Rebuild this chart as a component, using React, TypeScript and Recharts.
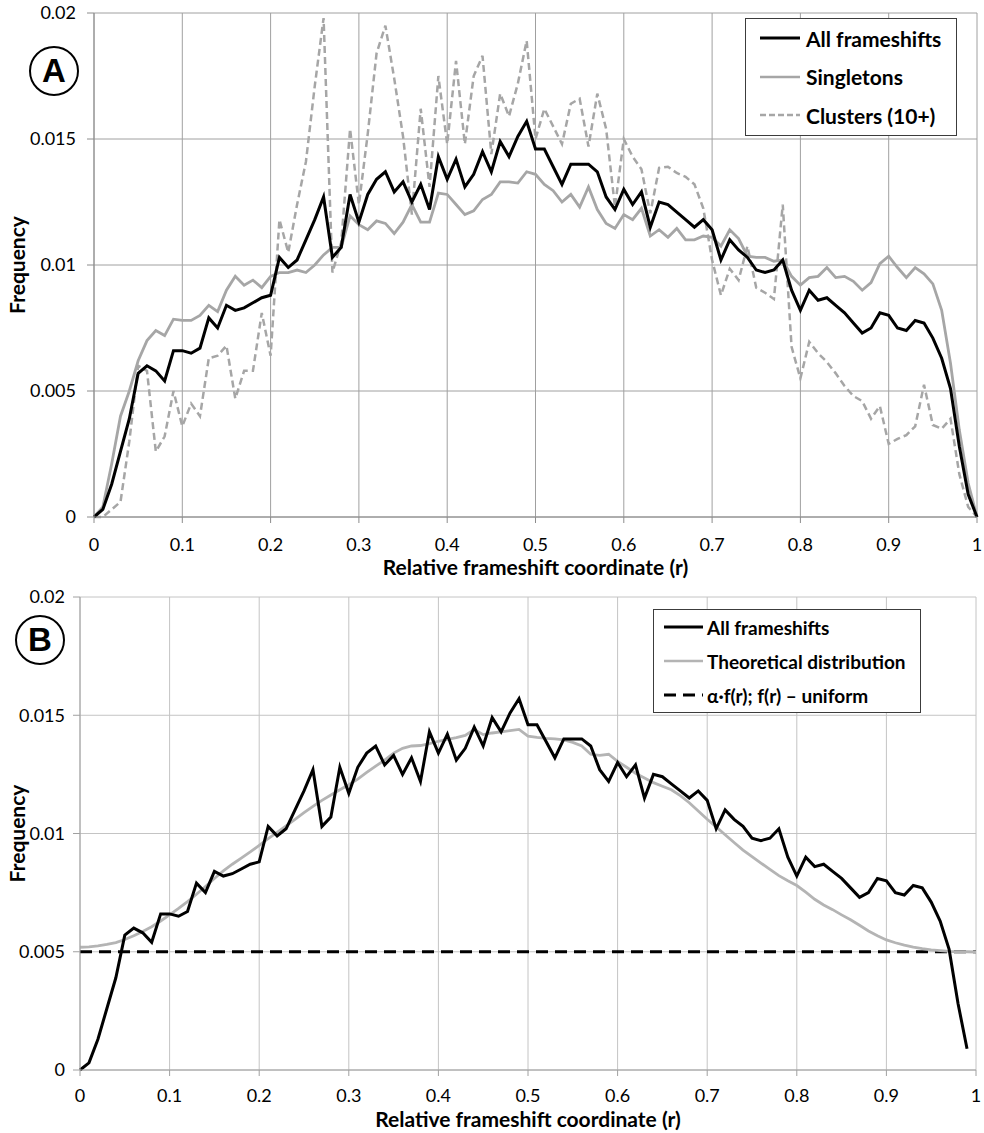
import React from 'react';
import { LineChart, Line, XAxis, YAxis, CartesianGrid, Legend, Label } from 'recharts';

// Relative frameshift coordinate r, in 0.01 bins
const R = Array.from({ length: 101 }, (_, i) => i / 100);

const X_TICKS = [0, 0.1, 0.2, 0.3, 0.4, 0.5, 0.6, 0.7, 0.8, 0.9, 1];
const Y_TICKS = [0, 0.005, 0.01, 0.015, 0.02];

// Frequency of all frameshifts (r = 0 … 1)
const ALL_FRAMESHIFTS = [
  0, 0.0003, 0.0013, 0.0026, 0.0039, 0.0057, 0.006, 0.0058, 0.0054, 0.0066,
  0.0066, 0.0065, 0.0067, 0.0079, 0.0075, 0.0084, 0.0082, 0.0083, 0.0085, 0.0087,
  0.0088, 0.0103, 0.0099, 0.0102, 0.011, 0.0118, 0.0127, 0.0103, 0.0107, 0.0128,
  0.0117, 0.0128, 0.0134, 0.0137, 0.0129, 0.0133, 0.0125, 0.0132, 0.0122, 0.0143,
  0.0134, 0.0142, 0.0131, 0.0136, 0.0145, 0.0137, 0.0149, 0.0143, 0.0151, 0.0157,
  0.0146, 0.0146, 0.0139, 0.0132, 0.014, 0.014, 0.014, 0.0137, 0.0127, 0.0122,
  0.013, 0.0124, 0.0129, 0.0115, 0.0125, 0.0124, 0.0121, 0.0118, 0.0115, 0.0118,
  0.0114, 0.0102, 0.011, 0.0106, 0.0103, 0.0098, 0.0097, 0.0098, 0.0102, 0.009,
  0.0082, 0.009, 0.0086, 0.0087, 0.0084, 0.0081, 0.0077, 0.0073, 0.0075, 0.0081,
  0.008, 0.0075, 0.0074, 0.0078, 0.0077, 0.0071, 0.0063, 0.0051, 0.0028, 0.0009,
  0,
];

// Singleton frameshifts
const SINGLETONS = [
  0, 0.0004, 0.0021, 0.004, 0.005, 0.0062, 0.007, 0.0074, 0.0072, 0.00785,
  0.0078, 0.0078, 0.008, 0.0084, 0.00815, 0.009, 0.00955, 0.0092, 0.0094, 0.0091,
  0.00955, 0.0097, 0.0097, 0.0098, 0.0097, 0.01, 0.0104, 0.0107, 0.0107, 0.01195,
  0.0116, 0.0114, 0.01175, 0.01165, 0.01125, 0.0117, 0.0124, 0.0117, 0.0117, 0.01285,
  0.0128, 0.0124, 0.012, 0.01215, 0.0126, 0.0128, 0.0133, 0.0133, 0.01325, 0.0137,
  0.0136, 0.0132, 0.01295, 0.0125, 0.0128, 0.0123, 0.0131, 0.0122, 0.01165, 0.01145,
  0.012, 0.0118, 0.01225, 0.01115, 0.0114, 0.0111, 0.01145, 0.011, 0.011, 0.01115,
  0.0111, 0.01075, 0.0114, 0.01105, 0.01035, 0.0103, 0.0103, 0.01015, 0.0102, 0.00955,
  0.0092, 0.0095, 0.00955, 0.0099, 0.0095, 0.00955, 0.00935, 0.009, 0.0093, 0.01005,
  0.01035, 0.0099, 0.0095, 0.0099, 0.00965, 0.00925, 0.0082, 0.0061, 0.00345, 0.00135,
  0,
];

// Frameshifts in clusters of 10 or more
const CLUSTERS = [
  0, 0, 0.0003, 0.0006, 0.003, 0.006, 0.0058, 0.0026, 0.0032, 0.005,
  0.0036, 0.0045, 0.004, 0.0063, 0.0064, 0.0068, 0.0047, 0.0058, 0.0058, 0.0081,
  0.0064, 0.0118, 0.0105, 0.0124, 0.0141, 0.0171, 0.0198, 0.0097, 0.0109, 0.0154,
  0.0124, 0.0152, 0.0184, 0.0195, 0.0174, 0.0151, 0.012, 0.0162, 0.0131, 0.0175,
  0.0148, 0.0181, 0.0148, 0.0175, 0.0183, 0.0144, 0.0168, 0.0159, 0.0172, 0.0189,
  0.015, 0.0162, 0.0155, 0.0148, 0.0164, 0.0166, 0.0147, 0.0168, 0.0154, 0.0123,
  0.015, 0.0143, 0.0138, 0.01205, 0.01385, 0.0139, 0.01365, 0.0135, 0.0132, 0.01225,
  0.0102, 0.0088, 0.00985, 0.0094, 0.01075, 0.0091, 0.0089, 0.00865, 0.0124, 0.00675,
  0.0055, 0.00695, 0.0065, 0.00615, 0.0057, 0.0052, 0.0048, 0.0046, 0.0039, 0.0044,
  0.0029, 0.0031, 0.00325, 0.0036, 0.00525, 0.00365, 0.0035, 0.0039, 0.0017, 0.0004,
  0,
];

// Theoretical distribution of frameshift coordinates
const THEORETICAL = [
  0.00519, 0.00521, 0.00525, 0.00531, 0.00539, 0.00552, 0.00568, 0.00586, 0.00606, 0.0063,
  0.00656, 0.00683, 0.00712, 0.00743, 0.00776, 0.0081, 0.00842, 0.0087, 0.00896, 0.00922,
  0.0095, 0.00978, 0.01005, 0.01032, 0.0106, 0.01088, 0.01115, 0.0114, 0.01163, 0.01185,
  0.01206, 0.0123, 0.01258, 0.01285, 0.0131, 0.0134, 0.0136, 0.0137, 0.01372, 0.0138,
  0.0139, 0.01398, 0.01405, 0.01415, 0.0144, 0.01418, 0.01425, 0.0143, 0.01435, 0.0144,
  0.01412, 0.01406, 0.01402, 0.014, 0.01396, 0.01385, 0.0137, 0.01335, 0.0133, 0.01335,
  0.01305, 0.0128, 0.01255, 0.01235, 0.01215, 0.012, 0.01185, 0.0116, 0.0113, 0.01095,
  0.0106, 0.01028, 0.00995, 0.00962, 0.0093, 0.00902, 0.00875, 0.00848, 0.00822, 0.008,
  0.0078, 0.00752, 0.00722, 0.00698, 0.00678, 0.00656, 0.00635, 0.00612, 0.00588, 0.00568,
  0.0055, 0.00538, 0.00528, 0.0052, 0.00513, 0.00508, 0.00505, 0.00502, 0.005, 0.005,
  0.00499,
];

// α·f(r) with f(r) uniform
const UNIFORM = R.map(() => 0.005);

const dataA = R.map((r, i) => ({
  r,
  all: ALL_FRAMESHIFTS[i],
  single: SINGLETONS[i],
  clusters: CLUSTERS[i],
}));

const dataB = R.map((r, i) => ({
  r,
  all: i < 100 ? ALL_FRAMESHIFTS[i] : null,
  theory: THEORETICAL[i],
  uniform: UNIFORM[i],
}));

const FONT = "Lato, 'Open Sans', sans-serif";
const GRAY = '#a6a6a6';

type Item = { label: string; color: string; dash?: string; width?: number };

function LegendBox({
  items, width, rowH, padLeft, lineW, gap, fontSize,
}: { items: Item[]; width: number; rowH: number; padLeft: number; lineW: number; gap: number; fontSize: number }) {
  return (
    <div
      style={{
        width,
        boxSizing: 'border-box',
        border: '1px solid #3c3c3c',
        background: '#fff',
        fontFamily: FONT,
        color: '#000',
      }}
    >
      {items.map((it) => (
        <div key={it.label} style={{ display: 'flex', alignItems: 'center', height: rowH, paddingLeft: padLeft }}>
          <svg width={lineW} height={6} style={{ flex: 'none' }}>
            <line x1={0} y1={3} x2={lineW} y2={3} stroke={it.color} strokeWidth={it.width ?? 2.5} strokeDasharray={it.dash} />
          </svg>
          <span style={{ marginLeft: gap, fontWeight: 700, fontSize, whiteSpace: 'nowrap' }}>{it.label}</span>
        </div>
      ))}
    </div>
  );
}

function PanelBadge({ letter, cx, cy }: { letter: string; cx: number; cy: number }) {
  const d = 50;
  return (
    <div
      style={{
        position: 'absolute',
        left: cx - d / 2,
        top: cy - d / 2,
        width: d,
        height: d,
        boxSizing: 'border-box',
        border: '2.5px solid #000',
        borderRadius: '50%',
        background: '#fff',
        display: 'flex',
        alignItems: 'center',
        justifyContent: 'center',
        fontFamily: "'Liberation Sans', Arial, sans-serif",
        fontWeight: 700,
        fontSize: 33,
        color: '#000',
        zIndex: 2,
      }}
    >
      {letter}
    </div>
  );
}

const tickStyle = { fill: '#000', fontSize: 18, fontFamily: FONT };
const titleStyle = { fill: '#000', fontSize: 21, fontWeight: 700, fontFamily: FONT };

export default function App() {
  return (
    <div style={{ position: 'absolute', left: 0, top: 0, width: 984, height: 1133, background: '#fff' }}>
      <div style={{ position: 'absolute', left: 0, top: 0 }}>
        <LineChart width={984} height={587} data={dataA} margin={{ top: 13, right: 7, bottom: 0, left: 0 }}>
          <CartesianGrid stroke="#a0a0a0" strokeWidth={1} />
          <XAxis
            dataKey="r"
            type="number"
            domain={[0, 1]}
            ticks={X_TICKS}
            height={70}
            tick={tickStyle}
            tickSize={6}
            tickMargin={15}
            stroke="#8c8c8c"
          >
            <Label value="Relative frameshift coordinate (r)" position="insideBottom" offset={12} style={titleStyle} />
          </XAxis>
          <YAxis
            type="number"
            domain={[0, 0.02]}
            ticks={Y_TICKS}
            width={94}
            tick={tickStyle}
            tickSize={7}
            tickMargin={11}
            stroke="#8c8c8c"
          >
            <Label value="Frequency" angle={-90} position="insideLeft" offset={18} style={{ ...titleStyle, textAnchor: 'middle' }} />
          </YAxis>
          <Legend
            layout="vertical"
            align="center"
            verticalAlign="middle"
            wrapperStyle={{ left: 745, top: 18, width: 212 }}
            content={() => (
              <LegendBox
                width={212}
                rowH={38.5}
                padLeft={14}
                lineW={40}
                gap={6}
                fontSize={21}
                items={[
                  { label: 'All frameshifts', color: '#000', width: 3 },
                  { label: 'Singletons', color: GRAY },
                  { label: 'Clusters (10+)', color: GRAY, dash: '6 3' },
                ]}
              />
            )}
          />
          <Line dataKey="clusters" type="linear" stroke={GRAY} strokeWidth={2.5} strokeDasharray="7 4" dot={false} isAnimationActive={false} />
          <Line dataKey="single" type="linear" stroke={GRAY} strokeWidth={2.8} dot={false} isAnimationActive={false} />
          <Line dataKey="all" type="linear" stroke="#000" strokeWidth={3} dot={false} isAnimationActive={false} />
        </LineChart>
      </div>

      <div style={{ position: 'absolute', left: 0, top: 585 }}>
        <LineChart width={984} height={548} data={dataB} margin={{ top: 12, right: 8, bottom: 0, left: 0 }}>
          <CartesianGrid stroke="#c4c4c4" strokeWidth={1} />
          <XAxis
            dataKey="r"
            type="number"
            domain={[0, 1]}
            ticks={X_TICKS}
            height={63}
            tick={tickStyle}
            tickSize={6}
            tickMargin={13}
            stroke="#a0a0a0"
          >
            <Label value="Relative frameshift coordinate (r)" position="insideBottom" offset={6} style={titleStyle} />
          </XAxis>
          <YAxis
            type="number"
            domain={[0, 0.02]}
            ticks={Y_TICKS}
            width={80}
            tick={tickStyle}
            tickSize={7}
            tickMargin={8}
            stroke="#a0a0a0"
          >
            <Label value="Frequency" angle={-90} position="insideLeft" offset={18} style={{ ...titleStyle, textAnchor: 'middle' }} />
          </YAxis>
          <Legend
            layout="vertical"
            align="center"
            verticalAlign="middle"
            wrapperStyle={{ left: 653, top: 24, width: 268 }}
            content={() => (
              <LegendBox
                width={268}
                rowH={34}
                padLeft={10}
                lineW={39}
                gap={4}
                fontSize={19}
                items={[
                  { label: 'All frameshifts', color: '#000', width: 3 },
                  { label: 'Theoretical distribution', color: '#b4b4b4' },
                  { label: 'α·f(r); f(r) – uniform', color: '#000', dash: '12 7', width: 3 },
                ]}
              />
            )}
          />
          <Line dataKey="uniform" type="linear" stroke="#000" strokeWidth={2.8} strokeDasharray="12 7" dot={false} isAnimationActive={false} />
          <Line dataKey="theory" type="linear" stroke="#b4b4b4" strokeWidth={2.8} dot={false} isAnimationActive={false} />
          <Line dataKey="all" type="linear" stroke="#000" strokeWidth={3} dot={false} isAnimationActive={false} />
        </LineChart>
      </div>

      <PanelBadge letter="A" cx={54} cy={71} />
      <PanelBadge letter="B" cx={40} cy={640} />
    </div>
  );
}
